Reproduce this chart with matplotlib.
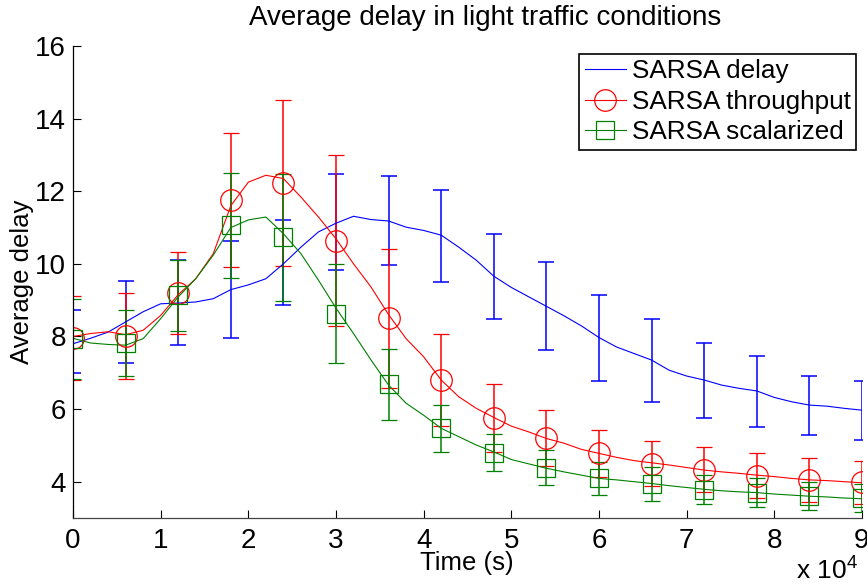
import matplotlib
matplotlib.use("Agg")
import matplotlib.pyplot as plt
import numpy as np
from matplotlib.lines import Line2D

plt.rcParams["font.family"] = ["Liberation Sans", "DejaVu Sans"]
plt.rcParams["mathtext.default"] = "regular"

# averaged curves, sampled every 0.2 (x 10^4 s)
t_line = [0.0, 0.2, 0.4, 0.6, 0.8, 1.0, 1.2, 1.4, 1.6, 1.8, 2.0, 2.2, 2.4, 2.6, 2.8,
          3.0, 3.2, 3.4, 3.6, 3.8, 4.0, 4.2, 4.4, 4.6, 4.8, 5.0, 5.2, 5.4, 5.6, 5.8,
          6.0, 6.2, 6.4, 6.6, 6.8, 7.0, 7.2, 7.4, 7.6, 7.8, 8.0, 8.2, 8.4, 8.6, 8.8, 9.0]
delay_line = [7.8, 7.95, 8.12, 8.4, 8.68, 8.9, 8.92, 8.95, 9.04, 9.29, 9.42, 9.59, 10.0, 10.46, 10.88,
              11.12, 11.31, 11.22, 11.18, 11.01, 10.92, 10.79, 10.46, 10.1, 9.66, 9.35, 9.09, 8.83, 8.57, 8.29,
              7.97, 7.71, 7.53, 7.35, 7.07, 6.91, 6.8, 6.66, 6.57, 6.5, 6.32, 6.2, 6.11, 6.08, 6.02, 5.97]
thr_line = [8.0, 8.08, 8.13, 8.05, 8.17, 8.58, 9.15, 9.59, 10.28, 11.6, 12.25, 12.44, 12.35, 11.84, 11.29,
            10.69, 10.0, 9.36, 8.6, 7.94, 7.44, 6.8, 6.34, 6.02, 5.77, 5.53, 5.37, 5.19, 5.06, 4.89,
            4.78, 4.67, 4.58, 4.52, 4.46, 4.39, 4.32, 4.27, 4.23, 4.18, 4.14, 4.09, 4.05, 4.03, 4.0, 3.97]
scal_line = [7.95, 7.82, 7.78, 7.76, 7.94, 8.49, 9.09, 9.59, 10.24, 11.0, 11.21, 11.29, 10.83, 10.28, 9.55,
             8.78, 8.08, 7.35, 6.66, 6.16, 5.83, 5.47, 5.24, 5.01, 4.82, 4.61, 4.49, 4.37, 4.27, 4.18,
             4.09, 4.05, 4.0, 3.95, 3.89, 3.84, 3.79, 3.75, 3.72, 3.7, 3.66, 3.63, 3.6, 3.58, 3.55, 3.53]

# error bars every 0.6 (x 10^4 s)
t_err = [0.0, 0.6, 1.2, 1.8, 2.4, 3.0, 3.6, 4.2, 4.8, 5.4, 6.0, 6.6, 7.2, 7.8, 8.4, 9.0]
delay_mean = [7.85, 8.39, 8.93, 9.3, 10.03, 11.15, 11.19, 10.76, 9.65, 8.83, 7.96, 7.34, 6.79, 6.48, 6.1, 5.96]
delay_err = [0.87, 1.13, 1.17, 1.33, 1.17, 1.33, 1.22, 1.27, 1.18, 1.21, 1.18, 1.14, 1.03, 0.97, 0.82, 0.82]
thr_mean = [7.95, 8.02, 9.2, 11.75, 12.23, 10.64, 8.5, 6.81, 5.75, 5.2, 4.78, 4.5, 4.33, 4.16, 4.05, 3.98]
thr_err = [1.16, 1.19, 1.12, 1.85, 2.29, 2.35, 1.92, 1.27, 0.93, 0.77, 0.64, 0.62, 0.62, 0.62, 0.6, 0.6]
scal_mean = [7.92, 7.82, 9.13, 11.06, 10.73, 8.63, 6.68, 5.47, 4.8, 4.38, 4.09, 3.94, 3.78, 3.69, 3.61, 3.55]
scal_err = [1.1, 0.92, 0.97, 1.44, 1.75, 1.37, 0.98, 0.65, 0.5, 0.48, 0.46, 0.47, 0.4, 0.4, 0.39, 0.38]

blue = "#0000ff"
red = "#ff0000"
green = "#008000"

fig = plt.figure(figsize=(8.67, 5.86), dpi=100)
ax = fig.add_axes([73 / 867, 1 - 518 / 586, 789 / 867, 472 / 586])

ax.errorbar(t_err, delay_mean, yerr=delay_err, fmt="none", ecolor=blue,
            elinewidth=1.1, capsize=5.8, capthick=1.1)
ax.errorbar(t_err, thr_mean, yerr=thr_err, fmt="o", color=red, mfc="none",
            ms=15.5, mew=0.9, elinewidth=1.1, capsize=5.8, capthick=1.1)
ax.errorbar(t_err, scal_mean, yerr=scal_err, fmt="s", color=green, mfc="none",
            ms=12.5, mew=0.9, elinewidth=1.1, capsize=5.8, capthick=1.1)

ax.plot(t_line, delay_line, color=blue, lw=0.8)
ax.plot(t_line, thr_line, color=red, lw=0.8)
ax.plot(t_line, scal_line, color=green, lw=0.8)

ax.set_xlim(0, 9)
ax.set_ylim(3, 16)
ax.set_xticks(np.arange(0, 10, 1))
ax.set_yticks(np.arange(4, 17, 2))
ax.tick_params(direction="in", length=6, width=0.8, labelsize=20, pad=5)
ax.tick_params(axis="x", pad=7)
for side in ["top", "right"]:
    ax.spines[side].set_visible(False)
ax.spines["left"].set_linewidth(0.9)
ax.spines["bottom"].set_linewidth(0.9)
ax.spines["bottom"].set_color("#444444")

handles = [
    Line2D([], [], color=blue, lw=0.8),
    Line2D([], [], color=red, lw=0.8, marker="o", ms=15.5, mfc="none", mew=0.9),
    Line2D([], [], color=green, lw=0.8, marker="s", ms=12.5, mfc="none", mew=0.9),
]
leg = ax.legend(handles, ["SARSA delay", "SARSA throughput", "SARSA scalarized"],
                loc="upper right", bbox_to_anchor=(0.992, 0.983), borderaxespad=0,
                fontsize=18.8, handlelength=1.6, handletextpad=0.2, labelspacing=0.25,
                borderpad=0.2, fancybox=False, framealpha=1, edgecolor="black")
leg.get_frame().set_linewidth(1.2)

fig.text(485 / 867, 1 - 18 / 586, "Average delay in light traffic conditions",
         ha="center", va="center", fontsize=20)
fig.text(467 / 867, 1 - 563 / 586, "Time (s)", ha="center", va="center", fontsize=18.5)
fig.text(22 / 867, 1 - 282 / 586, "Average delay", ha="center", va="center",
         rotation=90, fontsize=18.5)
fig.text(858 / 867, 1 / 586, r"x 10$^4$", ha="right", va="bottom", fontsize=19)

fig.savefig("out.png", dpi=100)
